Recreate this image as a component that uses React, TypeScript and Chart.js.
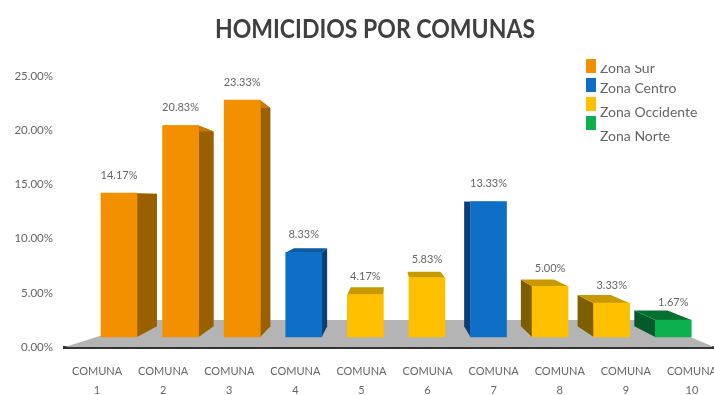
import React, { useEffect, useRef } from "react";
import { Chart, registerables } from "chart.js";

Chart.register(...registerables);

const chartTitle = "HOMICIDIOS POR COMUNAS";
const categories = [
  ["COMUNA", "1"], ["COMUNA", "2"], ["COMUNA", "3"], ["COMUNA", "4"], ["COMUNA", "5"],
  ["COMUNA", "6"], ["COMUNA", "7"], ["COMUNA", "8"], ["COMUNA", "9"], ["COMUNA", "10"],
];
const values = [14.17, 20.83, 23.33, 8.33, 4.17, 5.83, 13.33, 5.0, 3.33, 1.67];
const barZones = [0, 0, 0, 1, 2, 2, 1, 2, 2, 3];
const zoneNames = ["Zona Sur", "Zona Centro", "Zona Occidente", "Zona Norte"];
const zoneFaces = ["#F39000", "#0F6FC6", "#FFC000", "#0DB04F"];
const zoneSides = ["#9A6000", "#0A3F73", "#7D5F00", "#035A2A"];
const zoneCaps = ["#C97A00", "#0C5AA0", "#C99A00", "#05702F"];

const TEXT = "#666666";
const FONT = "Lato";

// Perspective of the pseudo-3D columns: every corner recedes toward one vanishing point.
const VANISH_X = 390;
const VANISH_Y = 200;
const DEPTH = 0.079;

const recede = (x: number, y: number): [number, number] => [
  x + (VANISH_X - x) * DEPTH,
  y + (VANISH_Y - y) * DEPTH,
];

const fillPoly = (ctx: CanvasRenderingContext2D, pts: number[][], color: string) => {
  ctx.fillStyle = color;
  ctx.beginPath();
  pts.forEach(([x, y], i) => (i ? ctx.lineTo(x, y) : ctx.moveTo(x, y)));
  ctx.closePath();
  ctx.fill();
};

const columns3d = {
  id: "columns3d",
  beforeDatasetsDraw(chart: any) {
    const ctx: CanvasRenderingContext2D = chart.ctx;
    const area = chart.chartArea;
    const floorBack = area.bottom - 27;
    fillPoly(
      ctx,
      [[area.left + 1, area.bottom], [150, floorBack], [650, floorBack], [714, area.bottom]],
      "#B4B4B4",
    );
    chart.getDatasetMeta(0).data.forEach((bar: any, i: number) => {
      const zone = barZones[i];
      const l = bar.x - bar.width / 2;
      const r = bar.x + bar.width / 2;
      const t = bar.y;
      const b = bar.base;
      const bl = recede(l, t);
      const br = recede(r, t);
      const edge = bar.x < VANISH_X ? r : l;
      if (Math.abs(bar.x - VANISH_X) > 45) {
        fillPoly(ctx, [[edge, t], recede(edge, t), recede(edge, b), [edge, b]], zoneSides[zone]);
      }
      fillPoly(ctx, [[l, t], [r, t], br, bl], zoneCaps[zone]);
    });
  },
  afterDatasetsDraw(chart: any) {
    const ctx: CanvasRenderingContext2D = chart.ctx;
    ctx.save();
    ctx.fillStyle = TEXT;
    ctx.textAlign = "center";
    ctx.textBaseline = "middle";
    ctx.font = `11px ${FONT}`;
    chart.getDatasetMeta(0).data.forEach((bar: any, i: number) => {
      ctx.fillText(`${values[i].toFixed(2)}%`, bar.x, bar.y - 18);
    });
    ctx.restore();
  },
};

// Heading in a condensed setting, centred a little right of the page middle.
const heading = {
  id: "heading",
  afterDraw(chart: any) {
    const ctx: CanvasRenderingContext2D = chart.ctx;
    ctx.save();
    ctx.translate(375, 29);
    ctx.scale(0.853, 1);
    ctx.font = `bold 27px ${FONT}`;
    ctx.fillStyle = "#404040";
    ctx.textAlign = "center";
    ctx.textBaseline = "middle";
    ctx.fillText(chartTitle, 0, 0);
    ctx.restore();
  },
};

// The key sits over the plot's upper right corner; its first row is cut along the top.
const zoneKey = {
  id: "zoneKey",
  afterDraw(chart: any) {
    const ctx: CanvasRenderingContext2D = chart.ctx;
    const swatchTops = [59, 78, 97, 116];
    const textMids = [68, 88, 112, 136];
    ctx.save();
    ctx.font = `14px ${FONT}`;
    ctx.textBaseline = "middle";
    zoneNames.forEach((name, i) => {
      ctx.fillStyle = zoneFaces[i];
      ctx.fillRect(586, swatchTops[i], 10, 14);
      ctx.save();
      ctx.beginPath();
      ctx.rect(596, i === 0 ? 65 : 50, 120, 110);
      ctx.clip();
      ctx.fillStyle = TEXT;
      ctx.fillText(name, 600, textMids[i]);
      ctx.restore();
    });
    ctx.restore();
  },
};

export default function App() {
  const ref = useRef<HTMLCanvasElement>(null);
  useEffect(() => {
    const chart = new Chart(ref.current!, {
      type: "bar",
      data: {
        labels: categories as any,
        datasets: [
          {
            data: values.map((v, i) => ({ x: i + 1, y: v })),
            backgroundColor: barZones.map((z) => zoneFaces[z]),
            barThickness: 36,
            xAxisID: "xBars",
            yAxisID: "yBars",
          },
        ],
      } as any,
      options: {
        responsive: false,
        animation: false,
        layout: { padding: { right: 25, top: 76 } },
        plugins: {
          legend: { display: false },
          tooltip: { enabled: false },
        },
        scales: {
          x: {
            type: "category",
            afterFit: (s: any) => { s.height = 48; },
            grid: { display: false, drawTicks: false },
            border: { display: true, color: "#333333", width: 3 },
            ticks: {
              autoSkip: false,
              maxRotation: 0,
              color: TEXT,
              padding: 15,
              font: { family: FONT, size: 11, lineHeight: 1.7 },
            },
          },
          y: {
            type: "linear",
            min: 0,
            max: 25,
            afterFit: (s: any) => { s.width = 64; },
            grid: { display: false, drawTicks: false },
            border: { display: false },
            ticks: {
              stepSize: 5,
              color: TEXT,
              padding: 11,
              font: { family: FONT, size: 11.5 },
              callback: (v: any) => `${Number(v).toFixed(2)}%`,
            },
          },
          xBars: { type: "linear", display: false, min: 0.107, max: 10.84, offset: false },
          yBars: { type: "linear", display: false, min: -0.985, max: 25.71 },
        },
      },
      plugins: [columns3d, heading, zoneKey],
    } as any);
    return () => chart.destroy();
  }, []);
  return (
    <div style={{ position: "fixed", left: 0, top: 0, width: 714, height: 395, overflow: "hidden", background: "#fff" }}>
      <canvas ref={ref} width={750} height={395} />
    </div>
  );
}
